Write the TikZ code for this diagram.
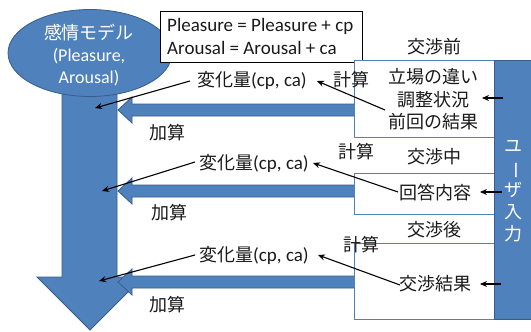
\documentclass[tikz,border=0pt]{standalone}
\usepackage{fontspec}
\setmainfont{Carlito}
\newfontfamily\jp{Noto Sans CJK JP}
\usetikzlibrary{arrows.meta,shapes.geometric}
\definecolor{bfill}{HTML}{4F81BD}
\definecolor{bline}{HTML}{385D8A}
\definecolor{txt}{HTML}{1A1A1A}
\tikzset{
  lbl/.style={font=\fontsize{18}{22}\selectfont, text=txt, inner sep=1pt, align=center},
  jlbl/.style={lbl, font=\fontsize{18}{22}\selectfont\jp},
  blk/.style={fill=bfill, draw=bline, line width=0.8pt},
  stagebox/.style={draw=bfill, fill=white, line width=0.8pt, inner sep=0pt},
  thinarr/.style={draw=black, line width=1.1pt, -{Stealth[length=7pt,width=6pt]}},
}
\begin{document}
\begin{tikzpicture}[x=1pt,y=-1pt]
\useasboundingbox (0,0) rectangle (531,332);
% big down arrow
\path[blk] (62,60) -- (117,60) -- (117,277) -- (143,277) -- (90,330) -- (37,277) -- (62,277) -- cycle;
% horizontal block arrows
\foreach \yy in {110,191,282}{
  \path[blk] (118,\yy) -- (132,\yy-13) -- (132,\yy-6) -- (355,\yy-6) -- (355,\yy+6) -- (132,\yy+6) -- (132,\yy+13) -- cycle;
}
% ellipse model
\node[ellipse, blk, minimum width=164pt, minimum height=87pt, inner sep=0pt] (model) at (90,53) {};
\node[lbl, text=white] (modeltxt) at (89,55) {{\jp 感情モデル}\\(Pleasure,\\Arousal)};
% formula box
\node[draw=black, fill=white, line width=1pt, minimum width=202pt, minimum height=51pt, inner sep=0pt] (formula) at (261,36.5) {};
\node[lbl, font=\fontsize{19}{23}\selectfont, anchor=west, align=left] (formulatxt) at (166,36.5) {Pleasure = Pleasure + cp\\Arousal = Arousal + ca};
% stage boxes
\node[stagebox, minimum width=140pt, minimum height=77pt] (box1) at (424,98.5) {};
\node[stagebox, minimum width=140pt, minimum height=41pt] (box2) at (424,193.5) {};
\node[stagebox, minimum width=140pt, minimum height=76pt] (box3) at (424,281) {};
% user input bar
\path[blk] (494,60) rectangle (533,319);
\node[jlbl, text=white] (user) at (513,191) {ユ\\\rotatebox[origin=c]{-90}{ー}\\ザ\\入\\力};
% stage labels
\node[jlbl] (pre) at (434,47) {交渉前};
\node[jlbl] (mid) at (434,157) {交渉中};
\node[jlbl] (post) at (434,230) {交渉後};
% box texts
\node[jlbl, font=\fontsize{18}{22.5}\selectfont\jp] (in1) at (433,99.5) {立場の違い\\調整状況\\前回の結果};
\node[jlbl] (in2) at (435,193) {回答内容};
\node[jlbl] (in3) at (435,284) {交渉結果};
% calc labels
\node[jlbl] (calc1) at (351,80) {計算};
\node[jlbl] (calc2) at (356,152) {計算};
\node[jlbl] (calc3) at (361,245) {計算};
% delta labels
\node[lbl, font=\fontsize{19}{22}\selectfont, anchor=west] (d1) at (196,80) {{\fontsize{18}{22}\selectfont\jp 変化量}(cp, ca)};
\node[lbl, font=\fontsize{19}{22}\selectfont, anchor=west] (d2) at (198,163) {{\fontsize{18}{22}\selectfont\jp 変化量}(cp, ca)};
\node[lbl, font=\fontsize{19}{22}\selectfont, anchor=west] (d3) at (198,255) {{\fontsize{18}{22}\selectfont\jp 変化量}(cp, ca)};
% add labels
\node[jlbl] (add1) at (167,133) {加算};
\node[jlbl] (add2) at (169,213) {加算};
\node[jlbl] (add3) at (167,305) {加算};
% connector endpoints
\coordinate (a1s) at (190,81);  \coordinate (a1e) at (95,108);
\coordinate (a2s) at (195,162); \coordinate (a2e) at (102,191);
\coordinate (a3s) at (195,255); \coordinate (a3e) at (99,281);
\coordinate (b1s) at (385,110); \coordinate (b1e) at (317,81);
\coordinate (b2s) at (398,192); \coordinate (b2e) at (313,163);
\coordinate (b3s) at (400,285); \coordinate (b3e) at (318,255);
\coordinate (c1s) at (503,98);  \coordinate (c1e) at (482,98);
\coordinate (c2s) at (502,192); \coordinate (c2e) at (480,192);
\coordinate (c3s) at (501,284); \coordinate (c3e) at (480,284);
\foreach \n in {a1,a2,a3,b1,b2,b3,c1,c2,c3}{
  \draw[thinarr] (\n s) -- (\n e);
}
\end{tikzpicture}
\end{document}
